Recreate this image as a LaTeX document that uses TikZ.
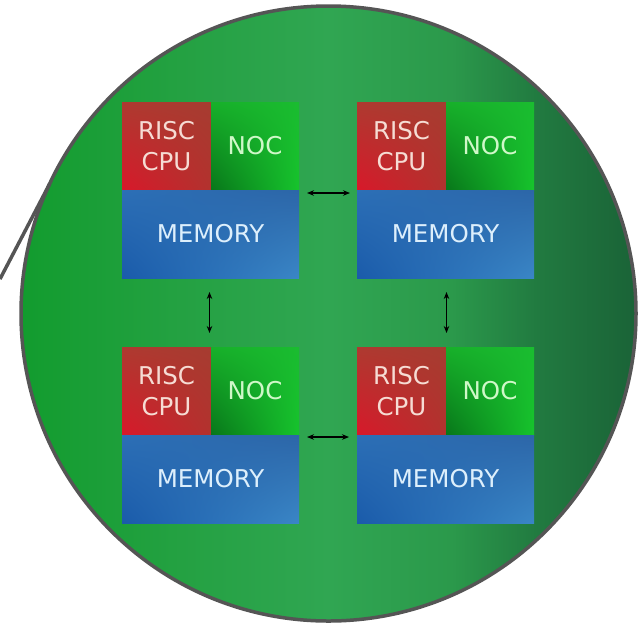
\documentclass[tikz,border=0pt]{standalone}
\usepackage{fontspec}
\setmainfont{DejaVu Sans}
\usetikzlibrary{arrows.meta,shadings}

\definecolor{rim}{HTML}{555555}
\definecolor{dieA}{HTML}{129C2E}
\definecolor{dieB}{HTML}{24A142}
\definecolor{dieC}{HTML}{30A652}
\definecolor{dieD}{HTML}{2B994B}
\definecolor{dieE}{HTML}{217A40}
\definecolor{dieF}{HTML}{1A6337}
\definecolor{cputext}{HTML}{F6DCD4}
\definecolor{noctext}{HTML}{CFF8C8}
\definecolor{memtext}{HTML}{DDEFFC}
\definecolor{cpuUL}{HTML}{AE3A30}
\definecolor{cpuUR}{HTML}{A63C30}
\definecolor{cpuLL}{HTML}{D8182A}
\definecolor{cpuLR}{HTML}{B2322E}
\definecolor{nocUL}{HTML}{17B02A}
\definecolor{nocUR}{HTML}{1ABC30}
\definecolor{nocLL}{HTML}{08761A}
\definecolor{nocLR}{HTML}{16C42C}
\definecolor{memUL}{HTML}{2C6FB6}
\definecolor{memUR}{HTML}{2C66A8}
\definecolor{memLL}{HTML}{1A5BAA}
\definecolor{memLR}{HTML}{3A86C6}

% horizontal green fill of the die: bright on the left, lightest in the
% middle, dark towards the right
\pgfdeclarehorizontalshading{diefill}{100bp}{
  color(0bp)=(dieA); color(25bp)=(dieA); color(38bp)=(dieB);
  color(50bp)=(dieC); color(60bp)=(dieD); color(67bp)=(dieE);
  color(75bp)=(dieF); color(100bp)=(dieF)}

\tikzset{
  block/.style={inner sep=0pt, outer sep=0pt, anchor=north west,
    font=\fontsize{24.5}{31}\selectfont, align=center},
  cpubox/.style={block, minimum width=89pt, minimum height=88pt,
    upper left=cpuUL, upper right=cpuUR,
    lower left=cpuLL, lower right=cpuLR, text=cputext},
  nocbox/.style={block, minimum width=88pt, minimum height=88pt,
    upper left=nocUL, upper right=nocUR,
    lower left=nocLL, lower right=nocLR, text=noctext},
  membox/.style={block, minimum width=177pt, minimum height=88pt,
    upper left=memUL, upper right=memUR,
    lower left=memLL, lower right=memLR, text=memtext},
  link/.style={draw=black, line width=1.2pt,
    {Stealth[length=7pt,width=5.5pt]}-{Stealth[length=7pt,width=5.5pt]}},
  lead/.style={draw=rim, line width=3.5pt}
}

\begin{document}
\begin{tikzpicture}[x=1pt,y=-1pt]
  \useasboundingbox (0,0) rectangle (639,625);

  % the die
  \node[circle, inner sep=0pt, outer sep=0pt, minimum size=615pt,
        draw=rim, line width=3.5pt, shading=diefill]
        (die) at (328.5,313.5) {};

  % lead wire leaving the die on the left
  \coordinate (leadend) at (0,279);
  \draw[lead] (die.155.5) -- (leadend);

  % four processing tiles
  \foreach \n/\x/\y in {tl/122/102, tr/357/102, bl/122/347, br/357/347}{
    \node[cpubox] (\n cpu) at (\x,\y) {RISC\\CPU};
    \node[nocbox] (\n noc) at (\n cpu.north east) {NOC};
    \node[membox] (\n mem) at (\n cpu.south west) {MEMORY};
  }

  % links between tiles
  \draw[link] ([xshift=8pt,yshift=-3pt]tlnoc.south east)
           -- ([xshift=-7pt,yshift=-3pt]trcpu.south west);
  \draw[link] ([xshift=8pt,yshift=-2pt]blnoc.south east)
           -- ([xshift=-8pt,yshift=-2pt]brcpu.south west);
  \draw[link] ([xshift=-1pt,yshift=-14pt]tlmem.south)
           -- ([xshift=-1pt,yshift=14pt]tlmem.south |- blcpu.north);
  \draw[link] ([xshift=1pt,yshift=-14pt]trmem.south)
           -- ([xshift=1pt,yshift=14pt]trmem.south |- brcpu.north);
\end{tikzpicture}
\end{document}
